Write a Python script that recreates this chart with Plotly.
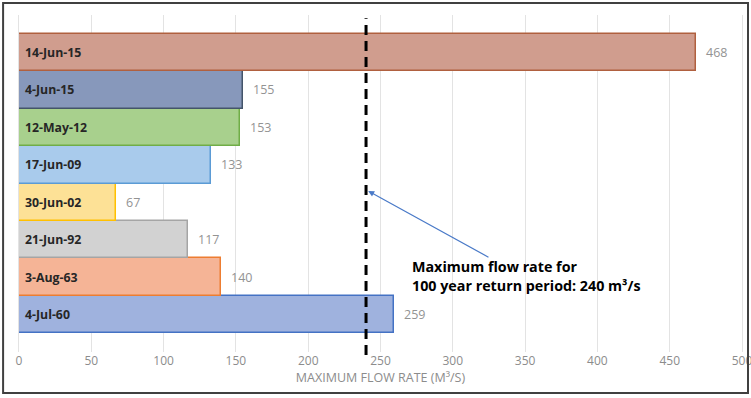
import plotly.graph_objects as go

# Data (bottom to top)
dates = ["4-Jul-60", "3-Aug-63", "21-Jun-92", "30-Jun-02", "17-Jun-09", "12-May-12", "4-Jun-15", "14-Jun-15"]
flows = [259, 140, 117, 67, 133, 153, 155, 468]
fills = ["#9fb2de", "#f5b496", "#d2d2d2", "#fde196", "#a9cbec", "#a8d08d", "#8798bb", "#d09d8e"]
borders = ["#4472c4", "#ed7d31", "#a5a5a5", "#ffc000", "#5b9bd5", "#70ad47", "#44546a", "#b0603f"]
ticks = [0, 50, 100, 150, 200, 250, 300, 350, 400, 450, 500]
threshold = 240

fig = go.Figure()
fig.add_trace(go.Bar(
    x=flows, y=list(range(len(dates))), orientation="h",
    marker=dict(color=fills, line=dict(color=borders, width=1.5)),
    width=1.0, showlegend=False, hoverinfo="skip",
))

annotations = []
for i, (d, v) in enumerate(zip(dates, flows)):
    annotations.append(dict(x=0, y=i, text=d, xanchor="left", yanchor="middle",
                            xshift=4, showarrow=False,
                            font=dict(family="Open Sans", size=12.3, color="#262626", weight="bold")))
    annotations.append(dict(x=v, y=i, text=str(v), xanchor="left", yanchor="middle",
                            xshift=8, showarrow=False,
                            font=dict(family="Open Sans", size=12.5, color="#939393")))

# arrow
annotations.append(dict(x=241.5, y=3.3, ax=325.7, ay=1.51, axref="x", ayref="y",
                        xref="x", yref="y", text="", showarrow=True,
                        arrowhead=2, arrowsize=1, arrowwidth=1.2, arrowcolor="#4a7ac8"))
annotations.append(dict(x=270.5, y=1.03, xref="x", yref="y", xanchor="left", yanchor="middle",
                        align="left", showarrow=False,
                        text="Maximum flow rate for<br>100 year return period: 240 m³/s",
                        font=dict(family="Open Sans", size=14.3, color="#000000", weight="bold")))

fig.update_layout(
    width=751, height=398,
    margin=dict(l=19, r=9, t=15, b=46, autoexpand=False),
    plot_bgcolor="white", paper_bgcolor="white",
    bargap=0,
    annotations=annotations,
    shapes=[
        dict(type="line", xref="x", yref="paper", x0=threshold, x1=threshold, y0=-0.009, y1=0.99,
             line=dict(color="black", width=3, dash="10px,6px")),
        dict(type="rect", xref="paper", yref="paper", x0=-0.022, x1=1.0083, y0=-0.1217, y1=1.0356,
             line=dict(color="#404040", width=2), fillcolor="rgba(0,0,0,0)", layer="above"),
    ],
    xaxis=dict(range=[0, 500], tickvals=ticks, showgrid=True, gridcolor="#e3e3e3", gridwidth=1,
               zeroline=False, showline=False, ticklabeloverflow="allow", automargin=False,
               tickfont=dict(family="Open Sans", size=12, color="#8c8c8c"),
               title=dict(text="MAXIMUM FLOW RATE (M³/S)", standoff=2,
                          font=dict(family="Open Sans", size=12.5, color="#8c8c8c"))),
    yaxis=dict(range=[-1, 8], showticklabels=False, showgrid=False, zeroline=False,
               showline=True, linecolor="#e3e3e3", mirror=True, ticks="", automargin=False),
)

fig.write_html("out.html")
